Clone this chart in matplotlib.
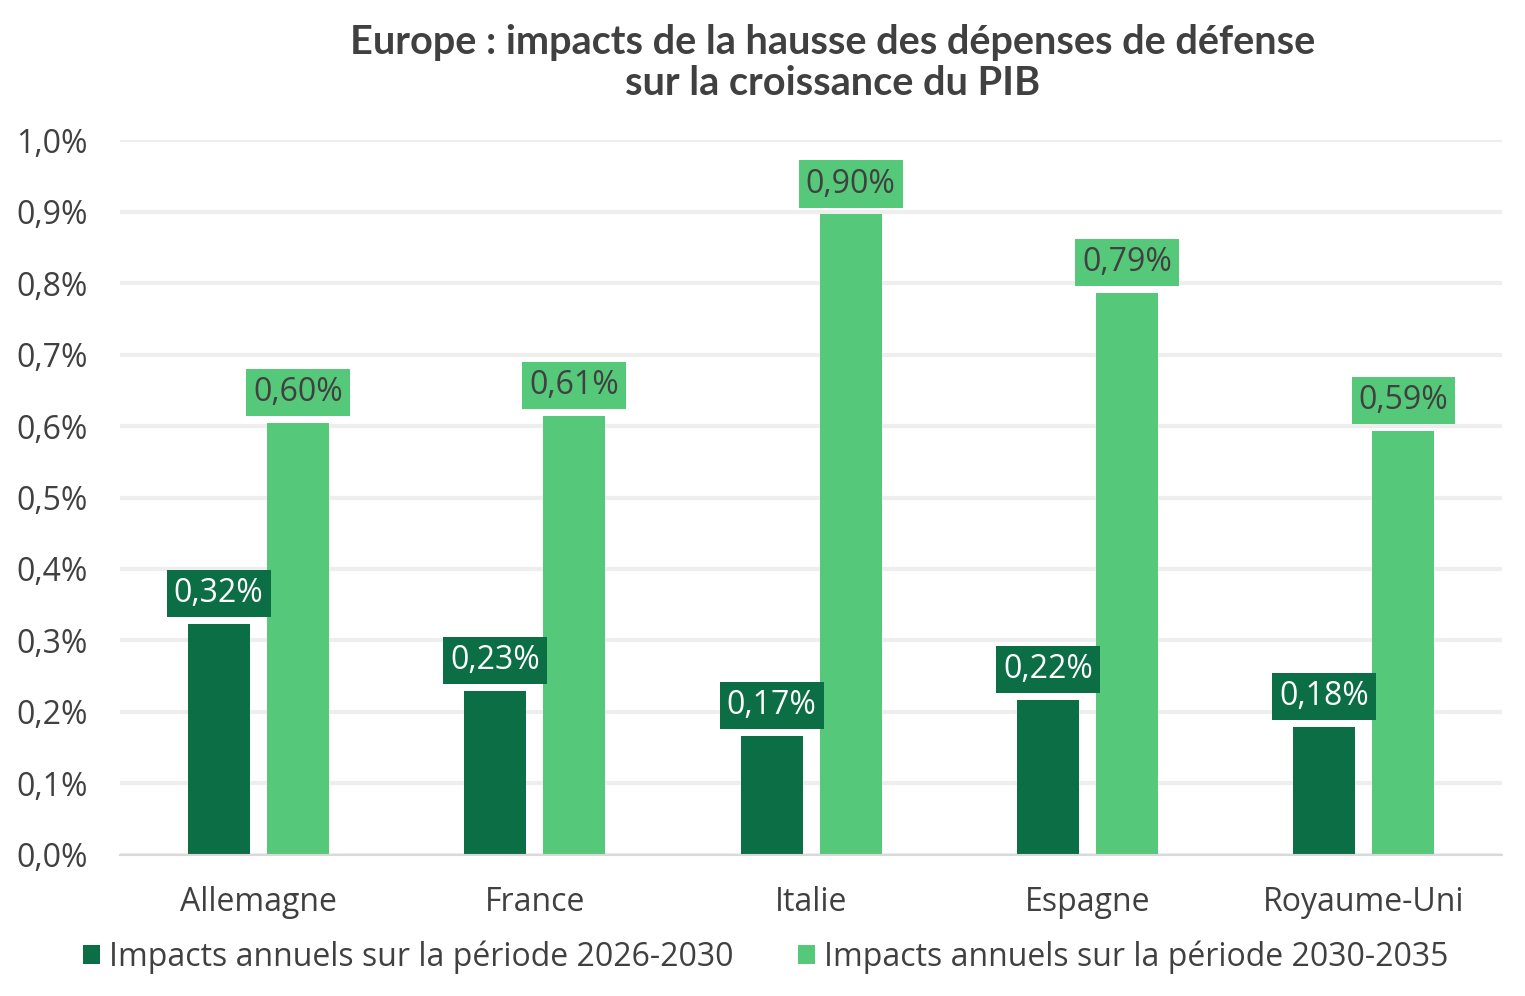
import matplotlib
matplotlib.use("Agg")
import matplotlib.pyplot as plt
import numpy as np

pays = ['Allemagne', 'France', 'Italie', 'Espagne', 'Royaume-Uni']
impacts_2026_2030 = [0.323, 0.229, 0.166, 0.217, 0.179]
impacts_2030_2035 = [0.604, 0.614, 0.896, 0.786, 0.593]
series_noms = ['Impacts annuels sur la période 2026-2030',
               'Impacts annuels sur la période 2030-2035']
y_ticks = [0.0, 0.1, 0.2, 0.3, 0.4, 0.5, 0.6, 0.7, 0.8, 0.9, 1.0]

vert_fonce = '#0B6E45'
vert_clair = '#55C87A'
gris_texte = '#404040'

plt.rcParams['font.family'] = ['Open Sans', 'DejaVu Sans']

fig = plt.figure(figsize=(15.25, 9.96), dpi=100)
ax = fig.add_axes([0.0787, 0.1416, 0.9063, 0.7178])

x = np.arange(len(pays))
w = 0.224
dx = 0.143
b1 = ax.bar(x - dx, impacts_2026_2030, w, color=vert_fonce, label=series_noms[0], zorder=3)
b2 = ax.bar(x + dx, impacts_2030_2035, w, color=vert_clair, label=series_noms[1], zorder=3)

def etiquettes(bars, vals, fond, couleur):
    for b, v in zip(bars, vals):
        ax.annotate(f"{v:.2f}%".replace('.', ','),
                    (b.get_x() + b.get_width() / 2, v),
                    xytext=(0, 10), textcoords='offset points',
                    ha='center', va='bottom', fontsize=23,
                    color=couleur, zorder=5,
                    bbox=dict(boxstyle='square,pad=0.22', fc=fond, ec='none'))

etiquettes(b1, impacts_2026_2030, vert_fonce, 'white')
etiquettes(b2, impacts_2030_2035, vert_clair, gris_texte)

ax.set_xlim(-0.5, len(pays) - 0.5)
ax.set_ylim(0, 1.0)
ax.set_yticks(y_ticks)
ax.set_yticklabels([f"{t:.1f}%".replace('.', ',') for t in y_ticks])
ax.set_xticks(x)
ax.set_xticklabels(pays)
ax.tick_params(axis='both', length=0, labelsize=23, colors=gris_texte, labelcolor=gris_texte)
ax.tick_params(axis='y', pad=23)
ax.tick_params(axis='x', pad=22)

ax.grid(axis='y', color='#EEEEEE', linewidth=3, zorder=0)
ax.set_axisbelow(True)
for s in ['top', 'right', 'left']:
    ax.spines[s].set_visible(False)
ax.spines['bottom'].set_color('#D9D9D9')
ax.spines['bottom'].set_linewidth(1.5)
ax.spines['bottom'].set_zorder(4)

fig.text(0.546, 0.976, "Europe : impacts de la hausse des dépenses de défense\nsur la croissance du PIB",
         ha='center', va='top', fontsize=28.5, weight='bold', color=gris_texte,
         linespacing=1.12, family=['Lato', 'DejaVu Sans'])

leg = fig.legend(handles=[b1, b2], loc='center', bbox_to_anchor=(0.502, 0.039), ncol=2,
                 frameon=False, fontsize=23, handlelength=0.55, handleheight=0.55,
                 handletextpad=0.28, columnspacing=2.0)
for t in leg.get_texts():
    t.set_color(gris_texte)

fig.savefig('out.png', dpi=100)
